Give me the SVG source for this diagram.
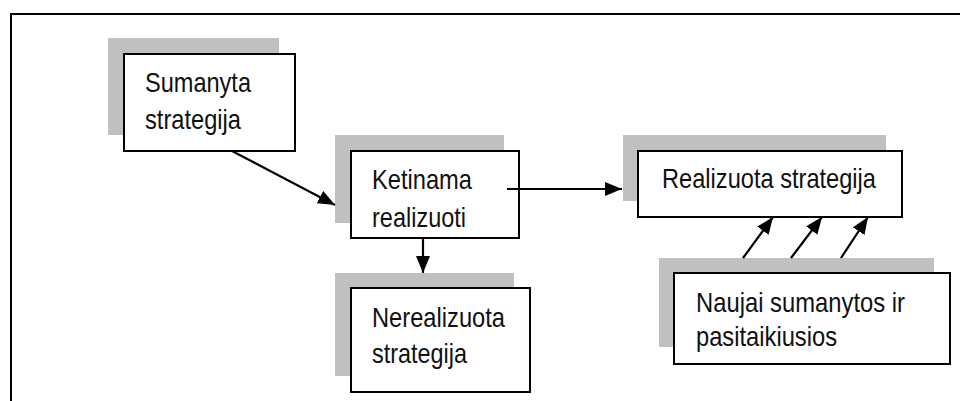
<svg xmlns="http://www.w3.org/2000/svg" width="960" height="401" viewBox="0 0 960 401">
  <defs>
    <marker id="arrow" markerUnits="userSpaceOnUse" markerWidth="17" markerHeight="14" refX="17" refY="7" orient="auto">
      <path d="M0,0 L17,7 L0,14 Z" fill="#000"/>
    </marker>
    <style>
      .shadow { fill: #c0c0c0; stroke: none; }
      .box { fill: #fff; stroke: #000; stroke-width: 2; }
      .label { font-family: "Liberation Sans", Arial, sans-serif; font-size: 28px; fill: #111; }
      .conn { stroke: #000; stroke-width: 2.2; fill: none; marker-end: url(#arrow); }
      .frame { stroke: #000; stroke-width: 2; fill: none; }
    </style>
  </defs>

  <rect width="960" height="401" fill="#fff"/>

  <!-- outer frame -->
  <path class="frame" d="M11,401 V14 H960"/>

  <g id="sumanyta">
    <rect class="shadow" x="108" y="38" width="171" height="97"/>
    <rect class="box" x="124" y="54" width="171" height="97"/>
    <text class="label" x="145" y="92" textLength="106" lengthAdjust="spacingAndGlyphs">Sumanyta</text>
    <text class="label" x="145" y="129" textLength="96" lengthAdjust="spacingAndGlyphs">strategija</text>
  </g>

  <g id="ketinama">
    <rect class="shadow" x="335" y="135" width="169" height="88"/>
    <rect class="box" x="351" y="151" width="168" height="87"/>
    <text class="label" x="372" y="189" textLength="100" lengthAdjust="spacingAndGlyphs">Ketinama</text>
    <text class="label" x="372" y="227" textLength="94" lengthAdjust="spacingAndGlyphs">realizuoti</text>
  </g>

  <g id="nerealizuota">
    <rect class="shadow" x="335" y="273" width="179" height="103"/>
    <rect class="box" x="351" y="288" width="179" height="104"/>
    <text class="label" x="372" y="327" textLength="133" lengthAdjust="spacingAndGlyphs">Nerealizuota</text>
    <text class="label" x="372" y="363" textLength="95" lengthAdjust="spacingAndGlyphs">strategija</text>
  </g>

  <g id="realizuota">
    <rect class="shadow" x="623" y="135" width="263" height="66"/>
    <rect class="box" x="638" y="151" width="264" height="66"/>
    <text class="label" x="662" y="188" textLength="214" lengthAdjust="spacingAndGlyphs">Realizuota strategija</text>
  </g>

  <g id="naujai">
    <rect class="shadow" x="659" y="258" width="275" height="89"/>
    <rect class="box" x="674" y="273" width="276" height="91"/>
    <text class="label" x="696" y="312" textLength="209" lengthAdjust="spacingAndGlyphs">Naujai sumanytos ir</text>
    <text class="label" x="696" y="346" textLength="141" lengthAdjust="spacingAndGlyphs">pasitaikiusios</text>
  </g>

  <g id="connectors">
    <line class="conn" x1="232" y1="151" x2="335" y2="205"/>
    <line class="conn" x1="507" y1="189" x2="622" y2="189"/>
    <line class="conn" x1="423" y1="238" x2="423" y2="273"/>
    <line class="conn" x1="743" y1="258" x2="773" y2="217"/>
    <line class="conn" x1="791" y1="258" x2="822" y2="217"/>
    <line class="conn" x1="841" y1="258" x2="868" y2="217"/>
  </g>
</svg>
